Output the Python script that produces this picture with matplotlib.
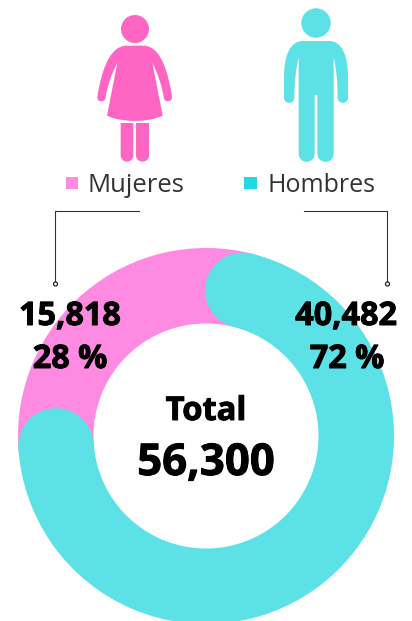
import numpy as np
import matplotlib
matplotlib.use("Agg")
import matplotlib.pyplot as plt
import matplotlib.patheffects as pe
from matplotlib.patches import Circle, PathPatch, Rectangle
from matplotlib.path import Path

categories = ["Hombres", "Mujeres"]
# share of the ring each colour occupies
ring_shares = [70.0, 30.0]
counts = ["40,482", "15,818"]
percents = ["72 %", "28 %"]
total_label = "Total"
total_value = "56,300"

TEAL, PINK, PINK_D, TEAL_L = "#5CE1E6", "#FF8AE2", "#FF66C4", "#22D9E0"
DARK = "#333333"
W, H = 412, 621
FONT = "Open Sans"

fig = plt.figure(figsize=(W / 100, H / 100), dpi=100, facecolor="white")
ax = fig.add_axes([0, 0, 1, 1])

def Y(y):
    return H - y

cx, cy, R, r = 206, 436, 188, 112.5
start = 75.8
ax.pie(ring_shares, colors=[TEAL, PINK], startangle=start, counterclock=False,
       center=(cx, Y(cy)), radius=R, frame=True,
       wedgeprops=dict(width=R - r, linewidth=0))
ax.set_xlim(0, W)
ax.set_ylim(0, H)
ax.set_aspect("equal")
ax.axis("off")

# rounded ends of the teal arc
mid = (R + r) / 2
cap = (R - r) / 2
end = start - 360 * ring_shares[0] / sum(ring_shares)
for a in (start, end):
    t = np.deg2rad(a)
    ax.add_patch(Circle((cx + mid * np.cos(t), Y(cy) + mid * np.sin(t)), cap,
                        fc=TEAL, ec="none", zorder=3))

def zx(x):
    return x / 3 + 60

def zy(y):
    return Y(y / 3)

def shape(cmds, color):
    verts, codes = [], []
    for code, pts in cmds:
        for p in pts:
            verts.append((zx(p[0]), zy(p[1])))
            codes.append(code)
    verts.append(verts[0])
    codes.append(Path.CLOSEPOLY)
    ax.add_patch(PathPatch(Path(verts, codes), fc=color, ec="none", zorder=4))

M, L = Path.MOVETO, Path.LINETO
C4 = Path.CURVE4

# woman
ax.add_patch(Circle((zx(225), zy(87)), 14, fc=PINK_D, ec="none", zorder=4))
shape([(M, [(141, 347)]), (L, [(172, 188)]),
       (C4, [(155, 220), (142, 258), (136, 296)]),
       (C4, [(132, 308), (110, 306), (112, 290)]),
       (C4, [(122, 225), (145, 137), (200, 137)]),
       (L, [(250, 137)]),
       (C4, [(305, 137), (326, 225), (336, 290)]),
       (C4, [(338, 306), (316, 308), (312, 296)]),
       (C4, [(306, 258), (293, 220), (277, 188)]),
       (L, [(308, 347)]),
       (C4, [(265, 368), (185, 368), (141, 347)])], PINK_D)
for x0, x1 in ((182, 220), (228, 267)):
    shape([(M, [(x0, 369)]), (L, [(x1, 369), (x1, 466)]),
           (C4, [(x1, 491), (x0, 491), (x0, 466)])], PINK_D)

# man
ax.add_patch(Circle((zx(768), zy(69)), 14.7, fc=TEAL, ec="none", zorder=4))
shape([(M, [(716, 172)]),
       (C4, [(708, 205), (703, 250), (703, 292)]),
       (C4, [(703, 314), (672, 314), (672, 292)]),
       (L, [(672, 235)]),
       (C4, [(672, 165), (690, 123), (730, 123)]),
       (L, [(806, 123)]),
       (C4, [(846, 123), (864, 165), (864, 235)]),
       (L, [(864, 292)]),
       (C4, [(864, 314), (833, 314), (833, 292)]),
       (C4, [(833, 250), (829, 205), (821, 172)]),
       (L, [(821, 460)]),
       (C4, [(821, 494), (772, 494), (772, 460)]),
       (L, [(772, 285), (764, 285), (764, 460)]),
       (C4, [(764, 494), (716, 494), (716, 460)])], TEAL)

# legend
ax.add_patch(Rectangle((65.7, Y(189)), 12.6, 12.4, fc=PINK, ec="none"))
ax.add_patch(Rectangle((244, Y(189)), 13, 12.4, fc=TEAL_L, ec="none"))
ax.text(88, Y(191.5), categories[1], fontsize=18.5, family=FONT, color=DARK,
        ha="left", va="baseline")
ax.text(268, Y(191.5), categories[0], fontsize=18, family=FONT, color=DARK,
        ha="left", va="baseline")

# leader lines
ax.plot([139, 55.5, 55.5], [Y(211), Y(211), Y(282)], color=DARK, lw=0.8, zorder=5)
ax.plot([304, 387.5, 387.5], [Y(211), Y(211), Y(282)], color=DARK, lw=0.8, zorder=5)
for x in (55.5, 387.5):
    ax.add_patch(Circle((x, Y(284)), 2, fc="white", ec="#222222", lw=0.9, zorder=5))

# labels
bold = dict(family=FONT, weight="bold", color="black", ha="center",
            va="baseline", zorder=6,
            path_effects=[pe.withStroke(linewidth=0.7, foreground="black")])
ax.text(70, Y(325), counts[1], fontsize=23.3, **bold)
ax.text(70, Y(368), percents[1], fontsize=23.3, **bold)
ax.text(346, Y(325), counts[0], fontsize=23.3, **bold)
ax.text(347, Y(368), percents[0], fontsize=23.3, **bold)
ax.text(206, Y(420), total_label, fontsize=23.5, **bold)
ax.text(206, Y(475), total_value, fontsize=31.5, **bold)

fig.savefig("out.png", dpi=100, facecolor="white")
